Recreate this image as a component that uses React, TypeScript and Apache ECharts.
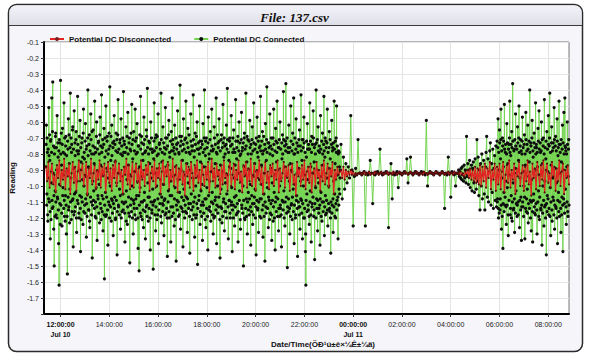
import React, { useEffect, useRef } from "react";
import * as echarts from "echarts";

// ---- Data: hours since Jul 10 00:00 ----
const X_TICK_HOURS = [12, 14, 16, 18, 20, 22, 24, 26, 28, 30, 32];

// Potential DC Connected (one reading every 0.01 h in the active periods)
const connectedActive = [
  -0.88,-0.74,-0.62,-1.12,-1.05,-0.7,-0.79,-1.18,-1.22,-0.77,-0.95,-1.08,-0.51,-0.81,-1.1,-0.68,-0.84,-1.16,-1.33,-0.72,
  -0.71,-1.21,-0.98,-0.79,-0.45,-1.09,-1.14,-0.66,-0.35,-1.13,-0.92,-0.75,-1.27,-1.06,-1.5,-0.8,-0.76,-1.19,-1.03,-0.69,
  -0.67,-1.1,-1.18,-0.76,-0.9,-1.2,-0.56,-1.07,-1.08,-0.73,-0.82,-1.15,-1.36,-0.78,-1.62,-0.71,-0.99,-1.11,-0.73,-1.24,
  -0.34,-0.8,-1.12,-0.67,-0.87,-1.17,-1.25,-0.74,-0.64,-1.06,-1.01,-0.79,-0.93,-1.14,-0.48,-1.09,-1.19,-0.7,-0.8,-1.22,
  -1.06,-0.75,-0.69,-1.12,-1.3,-0.81,-0.91,-1.19,-1.55,-0.72,-0.77,-1.07,-0.58,-1.15,-1.13,-0.68,-0.86,-1.23,-1.02,-0.76,
  -0.42,-1.1,-0.95,-0.7,-1.21,-0.79,-0.74,-1.16,-1.09,-0.65,-0.63,-1.08,-1.38,-0.77,-0.89,-1.18,-0.53,-1.05,-1.16,-0.73,
  -0.81,-1.13,-1.04,-0.71,-0.66,-1.2,-1.29,-0.78,-0.97,-1.09,-0.44,-0.74,-1.11,-0.8,-0.78,-1.17,-1.2,-0.69,-0.9,-1.06,
  -0.59,-1.14,-1.41,-0.76,-0.85,-1.21,-1.07,-0.73,-0.7,-1.1,-0.96,-0.82,-1.24,-0.67,-0.52,-1.16,-1.0,-0.79,-0.83,-1.12,
  -1.17,-0.72,-0.61,-1.08,-0.94,-0.77,-1.32,-1.11,-0.75,-1.19,-1.05,-0.7,-0.4,-0.81,-0.88,-1.15,-1.15,-0.74,-0.68,-1.22,
  -1.26,-0.78,-0.92,-1.07,-0.55,-0.71,-1.1,-1.18,-0.8,-0.66,-1.45,-1.12,-0.97,-0.75,-0.65,-1.09,-1.03,-0.8,-0.86,-1.14,
  -0.47,-0.76,-1.19,-1.1,-0.79,-1.2,-1.01,-0.69,-0.6,-1.13,-1.34,-0.77,-0.91,-1.06,-1.08,-0.73,-0.72,-1.17,-0.99,-0.8,
  -1.23,-0.68,-0.57,-1.11,-0.87,-0.75,-1.14,-1.21,-0.43,-0.79,-1.06,-1.16,-0.76,-0.71,-1.28,-1.08,-0.93,-0.74,-0.64,-1.18,
  -1.58,-1.12,-0.82,-0.7,-1.04,-1.19,-0.5,-0.78,-1.18,-1.07,-0.89,-0.72,-0.69,-1.15,-1.37,-0.8,-0.95,-1.1,-0.77,-0.67,
  -1.12,-1.2,-0.38,-0.75,-1.0,-1.13,-0.84,-0.69,-1.22,-1.08,-0.62,-0.81,-1.09,-1.17,-0.73,-0.76,-1.31,-1.11,-0.9,-0.72,
  -0.56,-1.14,-1.07,-0.74,-0.85,-1.21,-1.2,-0.78,-0.67,-1.09,-0.98,-0.71,-1.43,-1.16,-0.79,-0.68,-0.46,-1.12,-1.13,-0.77,
  -0.92,-1.18,-1.02,-0.73,-0.71,-1.06,-1.27,-0.8,-0.58,-1.2,-0.94,-0.75,-1.16,-1.1,-0.81,-0.7,-1.05,-1.15,-0.41,-0.79,
  -1.11,-0.72,-0.74,-1.17,-1.35,-0.79,-0.89,-1.1,-0.63,-1.22,-1.03,-0.76,-0.96,-0.69,-1.24,-1.13,-0.54,-0.8,-0.87,-1.07,
  -1.17,-0.73,-0.7,-1.19,-1.48,-0.77,-0.93,-1.12,-0.78,-0.67,-1.08,-1.16,-0.49,-0.74,-1.0,-1.2,-0.83,-0.71,-1.3,-1.09,
  -0.66,-1.11,-1.14,-0.78,-0.91,-1.18,-0.52,-0.72,-1.21,-1.08,-0.8,-0.7,-1.06,-1.14,-0.61,-0.79,-0.97,-1.2,-1.39,-0.75,
  -0.75,-1.06,-1.53,-1.12,-0.88,-0.68,-1.01,-1.17,-0.44,-0.77,-1.19,-1.1,-0.69,-0.73,-0.94,-1.21,-1.1,-0.8,-0.84,-1.15,
  -1.26,-0.74,-0.57,-1.09,-1.04,-0.71,-0.79,-1.16,-1.33,-0.78,-0.9,-1.13,-0.65,-0.69,-1.12,-1.19,-0.39,-0.76,-0.98,-1.07,
  -1.22,-0.8,-0.72,-1.14,-1.07,-0.73,-0.86,-1.2,-1.4,-0.77,-0.6,-1.1,-0.95,-0.7,-1.15,-1.17,-0.77,-0.79,-1.02,-1.12,
  -1.52,-1.1,-0.83,-0.72,-0.48,-0.78,-1.09,-1.18,-0.92,-0.7,-1.28,-1.13,-0.68,-0.76,-1.0,-1.21,-0.81,-0.69,-1.18,-1.08,
  -0.55,-0.8,-1.36,-1.15,-0.89,-0.74,-0.73,-1.11,-1.05,-0.77,-0.96,-1.19,-0.42,-0.71,-1.23,-1.07,-0.85,-0.79,-1.11,-1.16,
  -0.63,-1.12,-0.99,-0.73,-1.31,-1.09,-0.76,-0.8,-1.08,-1.18,-0.51,-0.7,-1.17,-0.77,-0.91,-1.14,-0.7,-1.2,-1.44,-0.75,
  -0.87,-1.1,-1.03,-0.68,-0.59,-1.16,-1.2,-0.79,-0.82,-1.06,-0.97,-0.72,-1.35,-1.13,-0.66,-0.78,-1.06,-1.19,-0.45,-0.74,
  -1.13,-0.71,-0.78,-1.17,-0.94,-0.76,-1.25,-1.08,-0.62,-0.8,-1.01,-1.21,-0.88,-0.7,-1.47,-1.12,-0.74,-0.77,-1.09,-1.15,
  -0.53,-0.73,-0.96,-1.1,-1.19,-0.79,-0.8,-1.18,-1.04,-0.69,-0.37,-0.75,-1.27,-1.13,-0.9,-0.72,-0.69,-1.07,-1.14,-0.78,
  -0.84,-1.16,-1.38,-0.74,-0.58,-1.09,-1.02,-0.77,-0.93,-1.2,-0.71,-1.12,-1.16,-0.7,-0.47,-0.79,-1.07,-1.17,-0.86,-0.73,
  -1.29,-1.08,-0.64,-0.76,-0.98,-1.14,-1.11,-0.68,-0.79,-1.19,-1.42,-0.8,-0.9,-1.11,-0.55,-0.72,-1.05,-1.15,-0.75,-0.78,
  -1.21,-0.75,-0.95,-1.13,-0.43,-0.71,-1.1,-1.18,-0.82,-0.78,-1.32,-1.07,-0.67,-0.74,-1.0,-1.2,-0.89,-0.69,-1.18,-1.11,
  -0.6,-0.77,-1.49,-1.14,-0.94,-0.73,-0.77,-1.09,-1.06,-0.8,-0.5,-0.72,-1.24,-1.16,-0.85,-0.76,-1.03,-1.12,-0.72,-1.19,
  -0.99,-0.74,-1.34,-1.1,-0.61,-0.79,-1.12,-1.17,-0.88,-0.7,-0.4,-0.77,-1.08,-1.21,-0.81,-0.72,-1.26,-1.08,-0.7,-1.14,
  -1.01,-0.76,-0.92,-1.19,-1.4,-0.73,-0.57,-1.06,-1.15,-0.8,-0.83,-1.13,-0.97,-0.71,-0.66,-1.16,-1.22,-0.78,-0.91,-1.1,
  -0.52,-0.75,-1.04,-1.18,-0.78,-1.11,-1.3,-0.77,-0.94,-1.2,-0.63,-0.7,-1.19,-1.09,-0.86,-0.74,-1.07,-1.15,-0.45,-0.79,
  -1.36,-1.12,-0.8,-0.68,-1.0,-1.17,-0.73,-0.76,-1.13,-1.07,-0.58,-0.72,-0.96,-1.21,-1.45,-0.78,-0.87,-1.13,-1.02,-0.71,
  -0.68,-1.14,-1.23,-0.76,-0.91,-1.19,-0.49,-0.73,-1.1,-1.08,-0.82,-0.7,-1.28,-1.16,-0.75,-0.8,-0.98,-1.11,-1.16,-0.74,
  -0.62,-1.2,-1.05,-0.77,-0.39,-0.71,-0.93,-1.13,-1.33,-0.79,-0.84,-1.09,-1.09,-0.72,-0.7,-1.17,-1.2,-0.75,-0.89,-1.12,
  -0.56,-1.1,-1.01,-0.74,-1.41,-1.15,-0.79,-0.7,-1.12,-1.2,-0.65,-0.77,-0.95,-1.07,-1.25,-0.79,-0.87,-1.13,-0.46,-0.72,
  -1.06,-1.18,-0.83,-0.76,-1.17,-1.11,-0.72,-0.69,-1.35,-1.16,-0.92,-0.78,-0.6,-1.09,-1.03,-0.73,-0.81,-1.21,-1.27,-0.8,
  -0.97,-0.71,-0.54,-1.12,-1.14,-0.78,-0.76,-1.17,-1.0,-0.73,-1.5,-1.09,-0.88,-0.7,-0.67,-1.2,-1.21,-0.77,-0.93,-1.14,
  -0.42,-0.75,-1.08,-1.19,-0.85,-0.69,-1.3,-1.1,-0.71,-0.8,-1.04,-1.15,-0.9,-0.72,-1.18,-1.08,-0.59,-0.76,-0.99,-1.13,
  -1.37,-0.74,-0.8,-1.16,-1.06,-0.71,-0.63,-1.11,-1.24,-0.78,-0.94,-1.18,-0.48,-0.73,-1.11,-1.07,-0.86,-0.77,-1.02,-1.2,
  -0.74,-1.13,-1.43,-0.7,-0.91,-1.09,-0.57,-0.79,-1.15,-1.14,-0.82,-0.72,-1.29,-1.1,-0.69,-0.76,-0.96,-1.19,-1.08,-0.75,
  -0.44,-0.78,-1.2,-1.08,-0.87,-0.72,-0.99,-1.15,-0.66,-0.8,-1.32,-1.12,-0.78,-0.69,-1.05,-1.19,-0.92,-0.74,-1.47,-1.1,
  -0.61,-0.77,-1.13,-1.17,-0.84,-0.71,-0.38,-0.79,-1.01,-1.14,-0.95,-0.73,-1.26,-1.07,-0.73,-0.76,-1.09,-1.21,-0.55,-0.8,
  -1.17,-0.75,-0.89,-1.11,-0.7,-1.18,-1.34,-0.77,-0.98,-1.09,-0.81,-0.7,-1.22,-1.13,-0.52,-0.74,-1.04,-1.2,-0.93,-0.78,
  -1.4,-1.1,-0.64,-0.72,-1.07,-1.16,-0.85,-0.79,-0.47,-0.73,-1.19,-1.08,-0.9,-0.76,-1.28,-1.14,-0.76,-0.71,-1.0,-1.19,
  -0.6,-1.12,-1.14,-0.77,-0.95,-1.18,-1.38,-0.73,-0.83,-1.09,-0.68,-0.8,-1.1,-1.15,-0.41,-0.71,-1.03,-1.2,-0.88,-0.75,
  -1.25,-1.1,-0.72,-0.78,-0.36,-0.74,-1.07,-1.17,-0.94,-0.7,-1.51,-1.13,-0.79,-0.76,-1.16,-1.08,-0.62,-0.79,-0.97,-1.14,
  -1.3,-0.76,-0.86,-1.19,-0.5,-0.72,-1.12,-1.11,-0.91,-0.78,-1.21,-1.07,-0.67,-0.74,-1.02,-1.16,-0.45,-0.8,-1.36,-1.12,
  -0.8,-0.7,-0.99,-1.2,-1.18,-0.77,-0.58,-1.09,-1.06,-0.73,-0.92,-1.14,-1.44,-0.79,-0.75,-1.1,-0.89,-0.71,-1.13,-1.18,
  -0.65,-1.13,-1.27,-0.75,-0.97,-1.08,-0.43,-0.78,-1.09,-1.17,-0.84,-0.71,-1.33,-1.11,-0.71,-0.76,-1.0,-1.2,-0.57,-0.73,
  -1.2,-1.14,-0.93,-0.79,-1.41,-1.3,-1.62,-1.09,-0.82,-0.72,-1.05,-1.16,-0.61,-0.77,-0.96,-1.12,-1.15,-0.74,-0.77,-1.19,
  -1.24,-0.77,-0.48,-1.1,-1.03,-0.72,-0.88,-1.18,-1.35,-0.79,-0.69,-1.13,-1.11,-0.74,-0.92,-1.07,-0.53,-0.7,-1.19,-1.15,
  -0.85,-0.76,-1.46,-1.11,-0.74,-0.8,-1.01,-1.2,-0.4,-0.73,-1.08,-1.14,-0.9,-0.71,-1.28,-1.09,-0.63,-0.78,-0.98,-1.17,
  -1.14,-0.75,-0.79,-1.12,-1.37,-1.08,-0.56,-0.77,-1.04,-1.19,-0.94,-0.72,-1.22,-1.1,-0.67,-0.8,-0.87,-1.16,-1.1,-0.74,
  -0.44,-0.78,-1.31,-1.13,-0.82,-0.7,-1.06,-1.18,-0.72,-0.76,-1.17,-1.09,-0.95,-0.73,-0.52,-1.15,-1.25,-0.79,-0.89,-1.11,
  -1.0,-0.76,-0.66,-1.14,-1.16,-0.71,-0.83,-1.2,-1.42,-1.1,-0.91,-0.74,-0.59,-1.17,-1.12,-0.78,-0.76,-1.08,-1.29,-0.73,
  -0.97,-1.13,-0.47,-0.77,-1.05,-1.19,-0.86,-0.72,-1.2,-1.11,-0.7,-0.79,-0.5,-1.15,-1.09,-0.75,-0.93,-1.07,-1.33,-0.8,
  -0.78,-1.12,-1.02,-0.79,-0.88,-1.05,-0.95,-0.9,
];
const connectedDecay = [
  -0.74, -1.08, -0.82, -1.02, -0.86, -0.98, -0.88, -0.95, -0.56, -0.9, -1.25, -0.94, -0.89, -0.93, -0.71, -0.92,
];
const connectedCalm = [
  -0.92, -0.93, -0.92, -0.91, -1.25, -0.92, -0.93, -0.92, -0.84, -0.92,
  -1.11, -0.92, -0.93, -0.92, -0.91, -0.92, -0.77, -0.92, -0.93, -0.92,
  -0.92, -0.91, -0.92, -1.26, -0.92, -0.86, -1.08, -0.92, -0.93, -0.92,
  -0.91, -1.01, -0.92, -0.92, -0.93, -0.92, -0.91, -0.92, -0.83, -0.98,
  -0.92, -0.82, -0.92, -0.93, -0.92, -0.91, -0.92, -0.92, -0.93, -0.92,
  -0.91, -0.92, -0.92, -0.93, -0.59, -1.0, -0.92, -0.91, -0.92, -0.92,
  -0.93, -0.92, -0.91, -0.92, -0.92, -0.93, -0.92, -0.91, -0.92, -1.14,
  -0.92, -0.93, -0.82, -0.92, -1.07, -0.91, -0.92, -0.93, -1.0, -0.92,
];
const connectedRamp = [
  -0.92, -0.9, -0.94, -0.91, -0.95, -0.89, -0.96, -0.88, -0.93, -0.97, -0.87, -0.95, -0.9, -0.98, -0.69, -0.94,
  -0.86, -0.99, -0.9, -0.84, -1.01, -0.93, -0.87, -1.03, -0.89, -0.85, -0.98, -1.04, -0.83, -0.95, -1.02, -0.71,
  -0.97, -0.82, -1.06, -0.9, -1.15, -0.86, -1.0, -0.8, -1.08, -0.93, -0.84, -1.05, -1.15, -0.88, -0.79, -0.69,
  -1.07, -0.83, -1.1, -0.91, -0.78, -0.73, -1.12, -0.86, -1.04, -0.77, -1.14, -0.89, -0.81, -1.09, -0.75, -1.13,
];
const connectedFinal = [
  -0.72,-1.1,-1.08,-0.76,-0.58,-1.14,-1.2,-0.79,-0.9,-1.17,-0.65,-0.73,-1.15,-1.08,-0.83,-0.71,-0.52,-1.12,-1.27,-0.78,
  -0.95,-1.19,-0.7,-0.75,-1.39,-1.11,-0.88,-0.72,-1.04,-1.16,-0.49,-0.77,-1.12,-1.07,-0.79,-0.74,-0.97,-1.13,-1.24,-0.8,
  -0.61,-1.12,-1.01,-0.73,-0.86,-1.18,-1.31,-0.77,-0.74,-1.09,-0.93,-0.7,-0.47,-0.79,-1.18,-1.14,-0.81,-0.74,-1.06,-1.2,
  -0.66,-0.76,-1.22,-1.1,-0.36,-0.72,-0.98,-1.15,-1.14,-0.78,-0.77,-1.08,-1.29,-0.71,-0.89,-1.17,-0.55,-0.75,-1.03,-1.11,
  -0.92,-0.77,-1.19,-1.12,-0.63,-0.73,-1.1,-1.18,-0.84,-0.7,-0.5,-0.79,-1.26,-1.09,-0.95,-0.75,-0.71,-1.15,-1.07,-0.78,
  -1.34,-1.13,-0.8,-0.72,-0.57,-1.1,-1.13,-0.76,-0.91,-1.19,-1.0,-0.74,-0.68,-1.07,-1.33,-0.8,-0.87,-1.14,-0.54,-0.71,
  -1.16,-1.08,-0.78,-0.74,-1.02,-1.17,-0.62,-0.77,-1.23,-1.11,-0.94,-0.72,-0.85,-1.14,-0.4,-0.79,-1.09,-1.2,-0.73,-0.75,
  -1.28,-1.1,-0.96,-0.7,-0.59,-1.16,-1.35,-0.78,-0.82,-1.09,-1.05,-0.73,-0.67,-1.13,-1.17,-0.76,-0.9,-1.18,-0.48,-0.8,
  -1.11,-0.74,-0.76,-1.15,-1.3,-0.79,-0.88,-1.1,-0.64,-0.72,-1.03,-1.19,-0.53,-0.77,-1.21,-1.07,-0.93,-0.73,-0.79,-1.14,
  -1.15,-0.78,-0.6,-1.12,-1.37,-0.71,-0.86,-1.17,-1.0,-0.75,-0.7,-1.09,-1.25,-0.8,-0.46,-1.13,-0.97,-0.76,-1.12,-1.2,
  -0.83,-0.72,-1.43,-1.11,-0.66,-1.16,-1.06,-0.77,-0.91,-1.08,-0.56,-0.74,-1.18,-1.14,-0.75,-0.7,-0.42,-1.19,-1.01,-0.79,
  -1.31,-1.1,-0.87,-0.73,-0.63,-1.15,-1.22,-0.78,-0.95,-1.07,-0.73,-0.76,-1.09,-1.18,-0.51,-0.71,-1.27,-1.12,-0.89,-0.75,
  -0.69,-1.13,-1.14,-0.78,-0.98,-1.2,-0.58,-0.72,-1.36,-1.09,-0.81,-0.76,-1.04,-1.16,-0.47,-0.74,-1.19,-1.1,-0.92,-0.79,
  -0.74,-1.14,-1.29,-0.71,-0.85,-1.18,-1.07,-0.77,-0.62,-1.12,-1.41,-0.73,-0.9,-1.08,-0.54,-0.8,-1.11,-1.17,-0.45,-0.75,
  -1.02,-0.76,-0.78,-1.13,-1.24,-0.8,-0.88,-1.1,-0.6,-0.74,-1.16,-1.19,-0.94,-0.77,-0.71,-1.12,
];

// Potential DC Disconnected (one reading every 0.05 h)
const disconnectedActive = [
  -0.88, -0.97, -0.85, -1.01, -0.91, -0.86, -0.99, -0.93, -1.04, -0.87,
  -0.95, -0.84, -1.0, -0.9, -0.96, -0.83, -1.02, -0.89, -0.94, -0.86,
  -1.05, -0.92, -0.85, -0.98, -0.88, -1.03, -0.91, -0.84, -0.97, -0.9,
  -0.86, -1.0, -0.93, -0.85, -1.06, -0.89, -0.95, -0.83, -0.99, -0.92,
  -0.87, -1.02, -0.9, -0.96, -0.84, -1.01, -0.88, -0.94, -0.86, -1.04,
  -0.91, -0.85, -0.98, -0.89, -1.03, -0.87, -0.95, -0.84, -1.0, -0.92,
  -0.86, -0.97, -0.9, -1.05, -0.88, -0.93, -0.83, -0.99, -0.87, -1.02,
  -0.94, -0.85, -1.01, -0.91, -0.86, -0.98, -0.89, -1.04, -0.84, -0.96,
  -0.9, -1.0, -0.87, -0.93, -0.85, -1.03, -0.92, -0.88, -0.97, -0.84,
  -1.01, -0.89, -0.95, -0.86, -1.05, -0.91, -0.84, -0.99, -0.88, -0.94,
  -0.85, -1.02, -0.9, -0.97, -0.83, -1.0, -0.93, -0.87, -1.04, -0.89,
  -0.96, -0.84, -0.99, -0.91, -1.06, -0.86, -0.94, -0.88, -1.01, -0.85,
  -0.92, -1.03, -0.87, -0.95, -0.84, -0.98, -0.9, -1.02, -0.86, -0.93,
  -1.0, -0.88, -0.96, -0.85, -1.04, -0.91, -0.83, -0.97, -0.89, -1.01,
  -0.86, -0.94, -0.9, -1.05, -0.87, -0.99, -0.84, -0.95, -0.92, -1.03,
  -0.88, -0.85, -1.0, -0.93, -0.86, -1.02, -0.9, -0.96, -0.84, -0.98,
  -0.91, -1.04, -0.87, -0.94, -0.85, -1.01, -0.89, -0.97, -0.83, -1.0,
  -0.93, -0.86, -1.03, -0.9, -0.95, -0.84, -0.99, -0.88, -1.05, -0.92,
  -0.85, -0.98, -0.91, -1.02, -0.87, -0.94, -0.86, -1.0, -0.9, -0.96,
  -0.84, -1.04, -0.89, -0.97, -0.92, -0.85, -1.01, -0.88, -0.95, -0.87,
  -1.03, -0.9, -0.86, -0.99, -0.93, -1.06, -0.85, -0.94, -0.89, -1.0,
  -0.87, -0.96, -0.84, -1.02, -0.91, -0.88, -0.98, -0.86, -1.04, -0.92,
  -0.89, -1.0, -0.85, -0.95, -0.9, -1.03, -0.87, -0.97, -0.84, -0.99,
  -0.92, -0.86, -1.01, -0.89, -0.94, -0.85, -1.05, -0.9, -0.96, -0.88,
  -0.93, -0.91,
];
const disconnectedDecay = [
  -0.9, -0.95, -0.88, -0.96, -0.9, -0.94, -0.91, -0.93, -0.9, -0.93, -0.91, -0.93, -0.92, -0.93, -0.92, -0.92,
];
const disconnectedCalm = [
  -0.92, -0.93, -0.92, -0.91, -0.93, -0.92, -0.92, -0.91, -0.93, -0.92,
  -0.92, -0.93, -0.91, -0.92, -0.92, -0.93, -0.92, -0.91, -0.92, -0.93,
  -0.92, -0.92, -0.91, -0.93, -0.92, -0.92, -0.93, -0.91, -0.92, -0.92,
  -0.93, -0.92, -0.91, -0.92, -0.93, -0.92, -0.92, -0.91, -0.92, -0.93,
  -0.92, -0.91, -0.92, -0.93, -0.92, -0.92, -0.91, -0.92, -0.93, -0.92,
  -0.92, -0.93, -0.91, -0.92, -0.92, -0.93, -0.92, -0.91, -0.92, -0.92,
  -0.93, -0.92, -0.91, -0.92, -0.92, -0.93, -0.92, -0.91, -0.92, -0.93,
  -0.92, -0.92, -0.91, -0.93, -0.92, -0.92, -0.93, -0.91, -0.92, -0.92,
];
const disconnectedRamp = [
  -0.92, -0.93, -0.91, -0.93, -0.92, -0.94, -0.91, -0.93, -0.9, -0.95,
  -0.89, -0.96, -0.9, -0.97, -0.88, -0.98, -0.89, -0.99, -0.87, -1.0,
  -0.88, -0.97, -0.86, -1.01, -0.89, -0.95, -0.85, -1.02, -0.9, -0.96,
  -0.86, -1.03,
];
const disconnectedFinal = [
  -0.88, -0.99, -0.86, -1.02, -0.91, -0.85, -1.04, -0.93, -0.87, -0.98,
  -0.84, -1.01, -0.9, -0.96, -0.86, -1.05, -0.89, -0.94, -0.85, -1.0,
  -0.92, -0.87, -1.03, -0.88, -0.97, -0.84, -0.99, -0.91, -1.06, -0.86,
  -0.95, -0.89, -1.02, -0.85, -0.93, -1.0, -0.87, -0.96, -0.84, -1.04,
  -0.9, -0.86, -0.98, -0.92, -1.01, -0.85, -0.94, -0.88, -1.03, -0.89,
  -0.97, -0.84, -1.0, -0.91, -0.86, -1.05, -0.9, -0.95, -0.87, -0.99,
];

// Recording segments: [first reading hour, sampling step in hours, readings]
const connectedSegments: [number, number, number[]][] = [
  [11.4, 0.01, connectedActive],
  [23.5, 0.05, connectedDecay],
  [24.3, 0.05, connectedCalm],
  [28.3, 0.025, connectedRamp],
  [29.9, 0.01, connectedFinal],
];
const disconnectedSegments: [number, number, number[]][] = [
  [11.4, 0.05, disconnectedActive],
  [23.5, 0.05, disconnectedDecay],
  [24.3, 0.05, disconnectedCalm],
  [28.3, 0.05, disconnectedRamp],
  [29.9, 0.05, disconnectedFinal],
];

const toPairs = (segs: [number, number, number[]][]) =>
  segs.flatMap(([start, step, vals]) => vals.map((v, i) => [start + i * step, v]));

const FONT = "Liberation Sans, Arial, sans-serif";

function hourLabel(h: number): string {
  const hh = Math.round(h) % 24;
  const s = (hh < 10 ? "0" : "") + hh + ":00:00";
  if (h === 12) return "{b|" + s + "}\n{b|Jul 10}";
  if (h === 24) return "{b|" + s + "}\n{b|Jul 11}";
  return s;
}

export default function App() {
  const ref = useRef<HTMLDivElement>(null);
  useEffect(() => {
    if (!ref.current) return;
    const chart = echarts.init(ref.current, undefined, { renderer: "svg" });
    chart.setOption({
      animation: false,
      backgroundColor: "#ffffff",
      title: {
        text: "File: 137.csv",
        left: "center",
        top: 6,
        textStyle: {
          fontFamily: "Liberation Serif, Times New Roman, serif",
          fontStyle: "italic",
          fontWeight: "bold",
          fontSize: 13,
          color: "#111",
        },
      },
      graphic: [
        {
          type: "rect",
          z: -10,
          shape: { x: 8.5, y: 4.5, width: 574, height: 347, r: 8 },
          style: { fill: "#f5f5fa", stroke: "#2b2b2b", lineWidth: 1.5 },
        },
        {
          type: "rect",
          z: -9,
          shape: { x: 9.5, y: 5.5, width: 572, height: 20, r: [7, 7, 0, 0] },
          style: {
            fill: new echarts.graphic.LinearGradient(0, 0, 0, 1, [
              { offset: 0, color: "#f3f3f9" },
              { offset: 1, color: "#dedee8" },
            ]),
          },
        },
        {
          type: "line",
          z: -8,
          shape: { x1: 9, y1: 25.5, x2: 582, y2: 25.5 },
          style: { stroke: "#3a3a3a", lineWidth: 1 },
        },
        {
          type: "text",
          x: 323,
          y: 340,
          style: {
            text: "Date/Time(ÖÐ¹ú±ê×¼Ê±¼ä)",
            fontFamily: FONT,
            fontSize: 8,
            fontWeight: "bold",
            fill: "#111",
            textAlign: "center",
          },
        },
      ],
      legend: {
        left: 44,
        top: 30,
        itemWidth: 14,
        itemHeight: 5,
        itemGap: 22,
        data: [
          { name: "Potential DC Disconnected", itemStyle: { color: "#7a2020" } },
          { name: "Potential DC Connected" },
        ],
        textStyle: { fontFamily: FONT, fontSize: 8, fontWeight: "bold", color: "#111" },
      },
      grid: {
        left: 42,
        top: 42,
        right: 20,
        bottom: 46,
        show: true,
        backgroundColor: "#ffffff",
        borderColor: "#777",
        borderWidth: 1,
      },
      xAxis: {
        type: "value",
        min: 11.32,
        max: 32.85,
        axisLine: { show: true, onZero: false, lineStyle: { color: "#000", width: 2 } },
        axisTick: { show: true, length: 3, customValues: X_TICK_HOURS, lineStyle: { color: "#333" } },
        splitLine: { show: true, lineStyle: { color: "#e4e4e4", width: 1 } },
        axisLabel: {
          customValues: X_TICK_HOURS,
          formatter: (v: number) => hourLabel(v),
          fontFamily: FONT,
          fontSize: 7,
          color: "#222",
          margin: 5,
          lineHeight: 10,
          rich: { b: { fontFamily: FONT, fontSize: 7, fontWeight: "bold", color: "#111", lineHeight: 10 } },
        },
      },
      yAxis: {
        type: "value",
        min: -1.8,
        max: -0.1,
        interval: 0.1,
        name: "Reading",
        nameLocation: "middle",
        nameGap: 15,
        nameTextStyle: { fontFamily: FONT, fontSize: 8, fontWeight: "bold", color: "#111" },
        axisLine: { show: true, onZero: false, lineStyle: { color: "#000", width: 2 } },
        axisTick: { show: true, length: 3, lineStyle: { color: "#333" } },
        splitLine: { show: true, lineStyle: { color: "#e4e4e4", width: 1 } },
        axisLabel: {
          fontFamily: FONT,
          fontSize: 7,
          color: "#222",
          margin: 5,
          formatter: (v: number) => (Math.abs(v + 1.8) < 1e-6 ? "" : v.toFixed(1)),
        },
      },
      series: [
        {
          name: "Potential DC Connected",
          type: "line",
          data: toPairs(connectedSegments),
          symbol: "circle",
          symbolSize: 3.2,
          showSymbol: true,
          showAllSymbol: true,
          lineStyle: { color: "#74d452", width: 1 },
          itemStyle: { color: "#0d0d0d" },
          emphasis: { disabled: true },
          z: 2,
        },
        {
          name: "Potential DC Disconnected",
          type: "line",
          data: toPairs(disconnectedSegments),
          symbol: "circle",
          symbolSize: 2.2,
          showSymbol: true,
          showAllSymbol: true,
          lineStyle: { color: "#e32222", width: 1.2 },
          itemStyle: { color: "#5a0a0a" },
          emphasis: { disabled: true },
          z: 3,
        },
      ],
    });
    return () => chart.dispose();
  }, []);
  return <div ref={ref} style={{ position: "absolute", left: 0, top: 0, width: 589, height: 360 }} />;
}
